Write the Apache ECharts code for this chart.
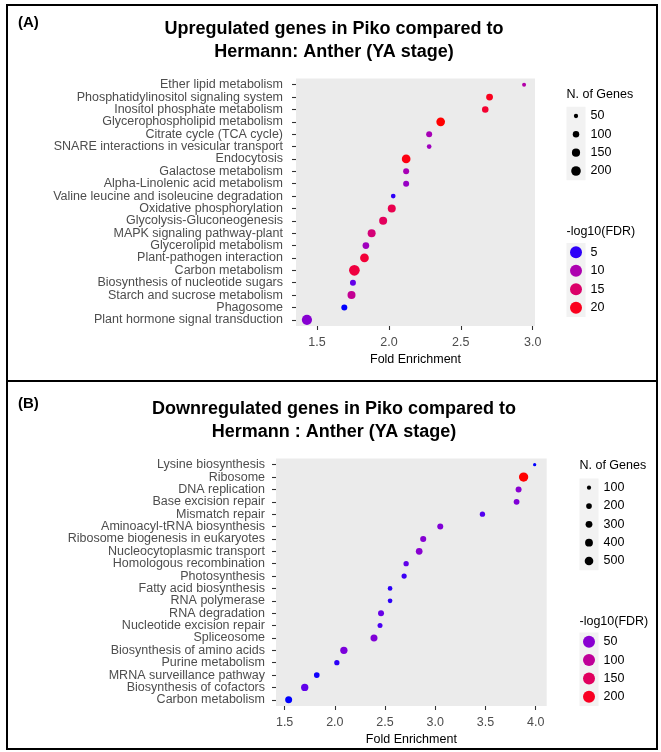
<!DOCTYPE html>
<html>
<head>
<meta charset="utf-8">
<script src="https://cdn.jsdelivr.net/npm/echarts@6/dist/echarts.min.js"></script>
<style>
  html, body { margin: 0; padding: 0; background: #ffffff; }
  #chart { width: 661px; height: 752px; }
</style>
</head>
<body>
<div id="chart"></div>
<script>
// ---- Panel A: KEGG pathways among up-regulated genes ----
const upPathways = [
  "Ether lipid metabolism", "Phosphatidylinositol signaling system", "Inositol phosphate metabolism",
  "Glycerophospholipid metabolism", "Citrate cycle (TCA cycle)", "SNARE interactions in vesicular transport",
  "Endocytosis", "Galactose metabolism", "Alpha-Linolenic acid metabolism",
  "Valine leucine and isoleucine degradation", "Oxidative phosphorylation", "Glycolysis-Gluconeogenesis",
  "MAPK signaling pathway-plant", "Glycerolipid metabolism", "Plant-pathogen interaction",
  "Carbon metabolism", "Biosynthesis of nucleotide sugars", "Starch and sucrose metabolism",
  "Phagosome", "Plant hormone signal transduction"
];
const upFold  = [2.94, 2.70, 2.67, 2.36, 2.28, 2.28, 2.12, 2.12, 2.12, 2.03, 2.02, 1.96, 1.88, 1.84, 1.83, 1.76, 1.75, 1.74, 1.69, 1.43];
const upGenes = [44, 110, 100, 167, 87, 58, 167, 87, 87, 58, 144, 144, 144, 105, 167, 243, 87, 144, 87, 223];
const upFDR   = [10.5, 20, 19, 21, 9.5, 9, 20.5, 9.5, 8.5, 5, 17, 16, 14, 9, 18.5, 18, 6, 12, 4.5, 7.5];

// ---- Panel B: KEGG pathways among down-regulated genes ----
const downPathways = [
  "Lysine biosynthesis", "Ribosome", "DNA replication", "Base excision repair", "Mismatch repair",
  "Aminoacyl-tRNA biosynthesis", "Ribosome biogenesis in eukaryotes", "Nucleocytoplasmic transport",
  "Homologous recombination", "Photosynthesis", "Fatty acid biosynthesis", "RNA polymerase",
  "RNA degradation", "Nucleotide excision repair", "Spliceosome", "Biosynthesis of amino acids",
  "Purine metabolism", "MRNA surveillance pathway", "Biosynthesis of cofactors", "Carbon metabolism"
];
const downFold  = [3.99, 3.88, 3.83, 3.81, 3.47, 3.05, 2.88, 2.84, 2.71, 2.69, 2.55, 2.55, 2.46, 2.45, 2.39, 2.09, 2.02, 1.82, 1.70, 1.54];
const downGenes = [56, 590, 225, 210, 170, 225, 230, 287, 175, 165, 130, 130, 225, 150, 316, 346, 170, 200, 346, 316];
const downFDR   = [12, 215, 50, 45, 25, 45, 48, 50, 30, 20, 18, 18, 32, 22, 45, 42, 18, 14, 30, 12];

// ---- axis ticks and legend breaks ----
const upFoldTicks   = [1.5, 2.0, 2.5, 3.0];
const downFoldTicks = [1.5, 2.0, 2.5, 3.0, 3.5, 4.0];
const upGeneBreaks   = [50, 100, 150, 200];
const upFdrBreaks    = [5, 10, 15, 20];
const downGeneBreaks = [100, 200, 300, 400, 500];
const downFdrBreaks  = [50, 100, 150, 200];

const FONT = '"Liberation Sans", Arial, Helvetica, sans-serif';

// blue -> red gradient interpolated in CIE Lab
function toLin(c) { c /= 255; return c <= 0.04045 ? c / 12.92 : Math.pow((c + 0.055) / 1.055, 2.4); }
function toSrgb(c) { c = Math.max(0, Math.min(1, c)); return 255 * (c <= 0.0031308 ? 12.92 * c : 1.055 * Math.pow(c, 1 / 2.4) - 0.055); }
const WX = 0.95047, WZ = 1.08883;
function rgbToLab(rgb) {
  const r = toLin(rgb[0]), g = toLin(rgb[1]), b = toLin(rgb[2]);
  const x = (0.4124 * r + 0.3576 * g + 0.1805 * b) / WX;
  const y = 0.2126 * r + 0.7152 * g + 0.0722 * b;
  const z = (0.0193 * r + 0.1192 * g + 0.9505 * b) / WZ;
  const f = t => t > 0.008856 ? Math.cbrt(t) : 7.787 * t + 16 / 116;
  return [116 * f(y) - 16, 500 * (f(x) - f(y)), 200 * (f(y) - f(z))];
}
function labToRgb(lab) {
  const fy = (lab[0] + 16) / 116, fx = fy + lab[1] / 500, fz = fy - lab[2] / 200;
  const inv = t => t * t * t > 0.008856 ? t * t * t : (t - 16 / 116) / 7.787;
  const x = inv(fx) * WX, y = inv(fy), z = inv(fz) * WZ;
  const r = 3.2406 * x - 1.5372 * y - 0.4986 * z;
  const g = -0.9689 * x + 1.8758 * y + 0.0415 * z;
  const b = 0.0557 * x - 0.2040 * y + 1.0570 * z;
  return 'rgb(' + [r, g, b].map(v => Math.round(toSrgb(v))).join(',') + ')';
}
const labLow = rgbToLab([0, 0, 255]), labHigh = rgbToLab([255, 0, 0]);
const gradient = [];
for (let i = 0; i <= 20; i++) {
  const t = i / 20;
  gradient.push(labToRgb(labLow.map((v, k) => v + (labHigh[k] - v) * t)));
}

// point diameter from gene count (area-style scale)
const upSize   = n => 0.75 * Math.sqrt(n) - 1.0;
const downSize = n => 0.36 * Math.sqrt(n) + 0.6;

const upFdrMin = Math.min(...upFDR), upFdrMax = Math.max(...upFDR);
const downFdrMin = Math.min(...downFDR), downFdrMax = Math.max(...downFDR);
const fdrColor = (v, lo, hi) => echarts.color.lerp((v - lo) / (hi - lo), gradient);

const upData = upPathways.map((p, i) => [upFold[i], p, upFDR[i], upGenes[i]]);
const downData = downPathways.map((p, i) => [downFold[i], p, downFDR[i], downGenes[i]]);

function xAxisCfg(grid, min, max, ticks, gap) {
  return {
    type: 'value', gridIndex: grid, min: min, max: max,
    name: 'Fold Enrichment', nameLocation: 'middle', nameGap: gap,
    nameTextStyle: { fontFamily: FONT, fontSize: 12.5, color: '#000' },
    axisLine: { show: false },
    splitLine: { show: false },
    axisTick: { show: true, length: 4, customValues: ticks, lineStyle: { color: '#333', width: 1.1 } },
    axisLabel: { customValues: ticks, margin: 10, fontFamily: FONT, fontSize: 12.5, color: '#4d4d4d',
      formatter: v => v.toFixed(1) }
  };
}
function yAxisCfg(grid, cats, margin) {
  return {
    type: 'category', gridIndex: grid, data: cats, inverse: true, boundaryGap: true,
    axisLine: { show: false },
    splitLine: { show: false },
    axisTick: { show: true, length: 4, alignWithLabel: true, lineStyle: { color: '#333', width: 1.1 } },
    axisLabel: { margin: margin, fontFamily: FONT, fontSize: 12.5, color: '#4d4d4d', interval: 0 }
  };
}

// ---- static decorations: frame, headings, legends ----
const graphics = [];
function line(x1, y1, x2, y2) {
  graphics.push({ type: 'line', shape: { x1, y1, x2, y2 }, style: { stroke: '#000', lineWidth: 2 }, silent: true });
}
function text(str, x, y, opts) {
  graphics.push({ type: 'text', x, y, silent: true,
    style: Object.assign({ text: str, fill: '#000', fontFamily: FONT, fontSize: 12.5,
      align: 'left', verticalAlign: 'middle' }, opts || {}) });
}
line(6, 5, 658, 5);
line(7, 4, 7, 750);
line(657, 4, 657, 750);
line(6, 381, 658, 381);
line(6, 749, 658, 749);

text('(A)', 18, 23, { fontSize: 15, fontWeight: 'bold' });
text('Upregulated genes in Piko compared to', 334, 29, { fontSize: 18, fontWeight: 'bold', align: 'center' });
text('Hermann: Anther (YA stage)', 334, 52, { fontSize: 18, fontWeight: 'bold', align: 'center' });
text('(B)', 18, 404, { fontSize: 15, fontWeight: 'bold' });
text('Downregulated genes in Piko compared to', 334, 409, { fontSize: 18, fontWeight: 'bold', align: 'center' });
text('Hermann : Anther (YA stage)', 334, 432, { fontSize: 18, fontWeight: 'bold', align: 'center' });

function legendBlock(title, x, yTitle, yFirst, step, breaks, radiusOf, colorOf) {
  text(title, x, yTitle);
  graphics.push({ type: 'rect', silent: true,
    shape: { x: x, y: yFirst - step / 2, width: 19, height: step * breaks.length },
    style: { fill: '#F2F2F2' } });
  breaks.forEach((b, i) => {
    const cy = yFirst + i * step;
    graphics.push({ type: 'circle', silent: true, shape: { cx: x + 9.5, cy: cy, r: radiusOf(b) },
      style: { fill: colorOf(b) } });
    text(String(b), x + 24, cy);
  });
}
legendBlock('N. of Genes', 566.5, 95, 116, 18.33, upGeneBreaks, b => upSize(b) / 2, () => '#000');
legendBlock('-log10(FDR)', 566.5, 232, 252.3, 18.45, upFdrBreaks, () => 6,
  b => fdrColor(b, upFdrMin, upFdrMax));
legendBlock('N. of Genes', 579.5, 466, 487.7, 18.33, downGeneBreaks, b => downSize(b) / 2, () => '#000');
legendBlock('-log10(FDR)', 579.5, 622, 641.7, 18.35, downFdrBreaks, () => 6,
  b => fdrColor(b, downFdrMin, downFdrMax));

const chart = echarts.init(document.getElementById('chart'), null, { renderer: 'canvas' });
chart.setOption({
  animation: false,
  backgroundColor: '#ffffff',
  textStyle: { fontFamily: FONT },
  grid: [
    { left: 296, top: 78.5, width: 239, height: 247.5, show: true, backgroundColor: '#EBEBEB', borderWidth: 0 },
    { left: 276, top: 458.5, width: 270.7, height: 247.5, show: true, backgroundColor: '#EBEBEB', borderWidth: 0 }
  ],
  xAxis: [
    xAxisCfg(0, 1.354, 3.016, upFoldTicks, 27),
    xAxisCfg(1, 1.414, 4.110, downFoldTicks, 27)
  ],
  yAxis: [
    yAxisCfg(0, upPathways, 13),
    yAxisCfg(1, downPathways, 11)
  ],
  visualMap: [
    { type: 'continuous', show: false, seriesIndex: 0, dimension: 2,
      min: upFdrMin, max: upFdrMax, inRange: { color: gradient } },
    { type: 'continuous', show: false, seriesIndex: 1, dimension: 2,
      min: downFdrMin, max: downFdrMax, inRange: { color: gradient } }
  ],
  series: [
    { type: 'scatter', xAxisIndex: 0, yAxisIndex: 0, data: upData,
      encode: { x: 0, y: 1 }, symbol: 'circle', symbolSize: d => upSize(d[3]),
      itemStyle: { opacity: 1 }, emphasis: { disabled: true } },
    { type: 'scatter', xAxisIndex: 1, yAxisIndex: 1, data: downData,
      encode: { x: 0, y: 1 }, symbol: 'circle', symbolSize: d => downSize(d[3]),
      itemStyle: { opacity: 1 }, emphasis: { disabled: true } }
  ],
  graphic: graphics
});
</script>
</body>
</html>
